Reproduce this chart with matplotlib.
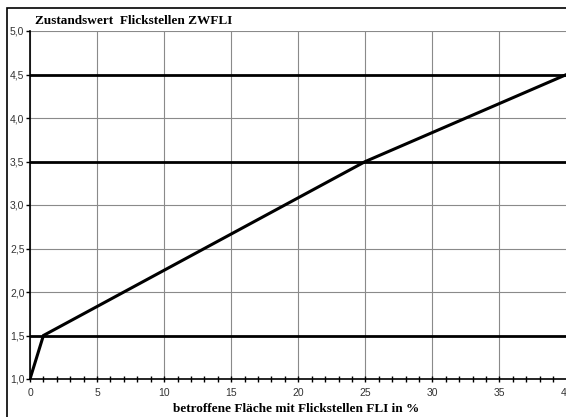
import matplotlib
matplotlib.use("Agg")
import matplotlib.pyplot as plt
from matplotlib.ticker import MultipleLocator, FuncFormatter
from matplotlib.patches import Rectangle

# Data
fli = [0, 1, 25, 40]
zw = [1.0, 1.5, 3.5, 4.5]
thresholds = [1.5, 3.5, 4.5]
x_ticks = [0, 5, 10, 15, 20, 25, 30, 35, 40]
y_ticks = [1.0, 1.5, 2.0, 2.5, 3.0, 3.5, 4.0, 4.5, 5.0]
title = "Zustandswert  Flickstellen ZWFLI"
xlabel = "betroffene Fläche mit Flickstellen FLI in %"

fig = plt.figure(figsize=(5.66, 4.17), dpi=100)
ax = fig.add_axes([30/566, 1 - 379/417, 1 - 30/566 + 0.001, (379 - 31)/417])

ax.set_xlim(0, 40)
ax.set_ylim(1.0, 5.0)
ax.set_xticks(x_ticks)
ax.set_yticks(y_ticks)
ax.xaxis.set_minor_locator(MultipleLocator(1))
ax.yaxis.set_major_formatter(FuncFormatter(lambda v, p: f"{v:.1f}".replace(".", ",")))
ax.xaxis.set_major_formatter(FuncFormatter(lambda v, p: f"{int(v)}"))

ax.grid(True, which="major", color="#8a8a8a", linewidth=0.8)
for t in thresholds:
    ax.axhline(t, color="black", linewidth=2.0, zorder=3)
ax.plot(fli, zw, color="black", linewidth=2.2, zorder=4, solid_joinstyle="miter")

for s in ["top", "right"]:
    ax.spines[s].set_visible(False)
ax.spines["left"].set_linewidth(1.2)
ax.spines["bottom"].set_linewidth(1.2)

ax.tick_params(axis="x", which="major", direction="inout", length=5, width=1, labelsize=7.5, pad=4, colors="black")
ax.tick_params(axis="x", which="minor", direction="inout", length=4, width=1)
ax.tick_params(axis="y", which="major", direction="out", length=3, width=1, labelsize=7.5, pad=1)
for lbl in ax.get_xticklabels() + ax.get_yticklabels():
    lbl.set_fontfamily("Liberation Sans")
    lbl.set_color("#333333")

fig.text(35/566, 1 - 21/417, title, fontsize=9.5, fontweight="bold",
         family="Liberation Serif", va="center", ha="left")
fig.text(296/566, 1 - 409/417, xlabel, fontsize=9.5, fontweight="bold",
         family="Liberation Serif", va="center", ha="center")

fig.patches.append(Rectangle((7/566, -0.01), 1.0, 1 - 8/417 + 0.01, transform=fig.transFigure,
                             fill=False, edgecolor="black", linewidth=1.2))

fig.savefig("out.png", dpi=100)
